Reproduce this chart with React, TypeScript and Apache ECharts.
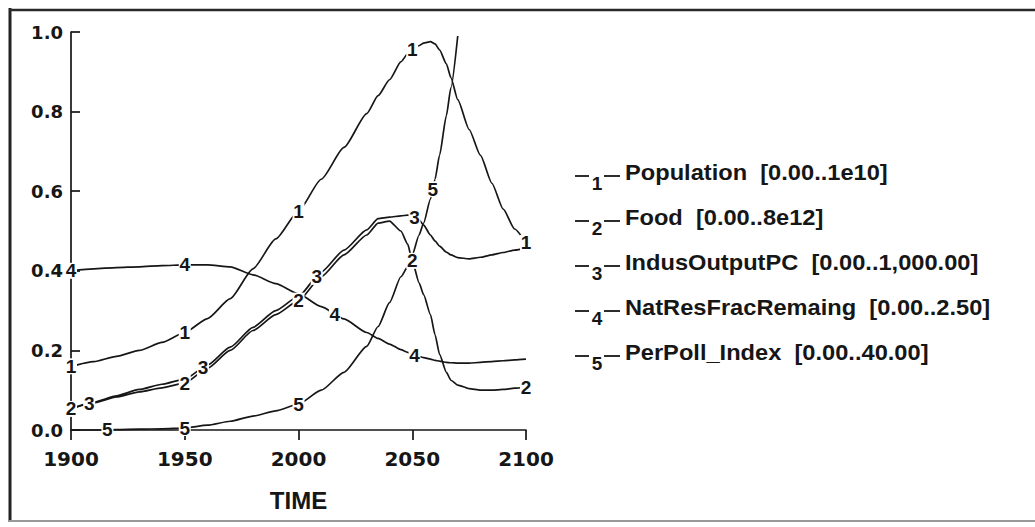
import React, { useEffect, useRef } from "react";
import * as echarts from "echarts";

const YEARS = [1900, 1910, 1920, 1930, 1940, 1950, 1960, 1970, 1980, 1990, 2000, 2010, 2020, 2030, 2035, 2040, 2045, 2048, 2050, 2053, 2055, 2058, 2060, 2062, 2065, 2067, 2070, 2075, 2080, 2085, 2090, 2095, 2100];

const POPULATION = [0.16, 0.172, 0.185, 0.2, 0.22, 0.245, 0.28, 0.33, 0.405, 0.48, 0.55, 0.63, 0.71, 0.795, 0.84, 0.88, 0.925, 0.945, 0.955, 0.966, 0.972, 0.976, 0.97, 0.955, 0.92, 0.885, 0.83, 0.755, 0.69, 0.62, 0.555, 0.505, 0.47];
const FOOD = [0.053, 0.068, 0.083, 0.096, 0.106, 0.118, 0.155, 0.2, 0.25, 0.29, 0.325, 0.385, 0.44, 0.49, 0.52, 0.525, 0.5, 0.467, 0.425, 0.37, 0.34, 0.29, 0.24, 0.19, 0.145, 0.125, 0.113, 0.104, 0.1, 0.1, 0.102, 0.105, 0.108];
const INDUS_OUTPUT_PC = [0.053, 0.07, 0.086, 0.102, 0.115, 0.128, 0.163, 0.208, 0.258, 0.3, 0.336, 0.397, 0.452, 0.503, 0.531, 0.535, 0.538, 0.54, 0.538, 0.528, 0.515, 0.49, 0.475, 0.462, 0.447, 0.44, 0.433, 0.43, 0.434, 0.44, 0.446, 0.452, 0.457];
const NAT_RES = [0.4, 0.405, 0.408, 0.41, 0.413, 0.415, 0.415, 0.41, 0.39, 0.368, 0.342, 0.31, 0.279, 0.245, 0.23, 0.216, 0.202, 0.195, 0.19, 0.185, 0.182, 0.178, 0.175, 0.173, 0.17, 0.169, 0.168, 0.168, 0.17, 0.172, 0.174, 0.176, 0.178];
const POLLUTION = [0, 0, 0.001, 0.002, 0.003, 0.005, 0.012, 0.022, 0.035, 0.048, 0.065, 0.1, 0.145, 0.21, 0.26, 0.32, 0.385, 0.41, 0.44, 0.49, 0.52, 0.58, 0.63, 0.69, 0.79, 0.86, 0.99, null, null, null, null, null, null];

const SERIES_VALUES = [POPULATION, FOOD, INDUS_OUTPUT_PC, NAT_RES, POLLUTION];
const SERIES_DIGITS = ["1", "2", "3", "4", "5"];
const LEGEND_NAMES = [
  "Population  [0.00..1e10]",
  "Food  [0.00..8e12]",
  "IndusOutputPC  [0.00..1,000.00]",
  "NatResFracRemaing  [0.00..2.50]",
  "PerPoll_Index  [0.00..40.00]",
];
const LABEL_YEARS = [
  [1900, 1950, 2000, 2050, 2100],
  [1900, 1950, 2000, 2050, 2100],
  [1908, 1958, 2008, 2051],
  [1900, 1950, 2016, 2051],
  [1916, 1950, 2000, 2059],
];
const X_TICKS = { min: 1900, max: 2100, interval: 50 };
const Y_TICKS = { min: 0, max: 1, interval: 0.2 };

const INK = "#161616";
const ARIAL = "Liberation Sans";
const WIDE = "DejaVu Sans";

function interp(vals: (number | null)[], yr: number): number {
  for (let i = 0; i < YEARS.length - 1; i++) {
    if (yr >= YEARS[i] && yr <= YEARS[i + 1]) {
      const a = vals[i] as number;
      const b = vals[i + 1] as number;
      if (b == null) return a;
      const t = (yr - YEARS[i]) / (YEARS[i + 1] - YEARS[i]);
      return a + (b - a) * t;
    }
  }
  return vals[vals.length - 1] as number;
}

export default function App() {
  const ref = useRef<HTMLDivElement>(null);
  useEffect(() => {
    document.body.style.margin = "0";
    const chart = echarts.init(ref.current!, null, { renderer: "svg" });

    const series = SERIES_VALUES.map((vals, si) => ({
      type: "line",
      name: LEGEND_NAMES[si],
      data: YEARS.map((y, i) => [y, vals[i]]),
      showSymbol: false,
      symbol: "none",
      smooth: 0.2,
      smoothMonotone: "x",
      connectNulls: false,
      clip: false,
      lineStyle: { color: INK, width: 1.7 },
      markPoint: {
        silent: true,
        symbol: "rect",
        symbolSize: [12, 16],
        itemStyle: { color: "#ffffff" },
        label: {
          show: true,
          position: "inside",
          formatter: SERIES_DIGITS[si],
          color: INK,
          fontSize: 19,
          fontWeight: "bold",
          fontFamily: ARIAL,
        },
        data: LABEL_YEARS[si].map((yr) => ({ coord: [yr, interp(vals, yr)], value: SERIES_DIGITS[si] })),
      },
    }));

    const legendGraphics: any[] = [];
    LEGEND_NAMES.forEach((name, i) => {
      const c = 172 + i * 45;
      legendGraphics.push(
        { type: "line", shape: { x1: 575, y1: c + 4, x2: 589, y2: c + 4 }, style: { stroke: INK, lineWidth: 1.8 } },
        { type: "line", shape: { x1: 604, y1: c + 4, x2: 620, y2: c + 4 }, style: { stroke: INK, lineWidth: 1.8 } },
        {
          type: "text",
          x: 597,
          y: c + 11,
          style: { text: SERIES_DIGITS[i], fontSize: 19, fontWeight: "bold", fontFamily: ARIAL, fill: INK, align: "center", verticalAlign: "middle" },
        },
        {
          type: "text",
          x: 625,
          y: c,
          scaleX: 1.075,
          style: { text: name, fontSize: 22, fontWeight: "bold", fontFamily: ARIAL, fill: INK, align: "left", verticalAlign: "middle" },
        }
      );
    });

    chart.setOption({
      animation: false,
      backgroundColor: "#ffffff",
      grid: { left: 71, right: 509, top: 32, bottom: 97, containLabel: false, outerBoundsMode: "none" },
      xAxis: {
        type: "value",
        min: X_TICKS.min,
        max: X_TICKS.max,
        interval: X_TICKS.interval,
        name: "TIME",
        nameLocation: "middle",
        nameGap: 58,
        nameTextStyle: { color: INK, fontSize: 24, fontWeight: "bold", fontFamily: ARIAL },
        axisLine: { show: true, onZero: false, lineStyle: { color: INK, width: 1.7 } },
        axisTick: { show: true, length: 10, lineStyle: { color: INK, width: 1.7 } },
        axisLabel: { margin: 19, color: INK, fontSize: 20, fontWeight: "bold", fontFamily: WIDE, formatter: (v: number) => String(v) },
        splitLine: { show: false },
      },
      yAxis: {
        type: "value",
        min: Y_TICKS.min,
        max: Y_TICKS.max,
        interval: Y_TICKS.interval,
        axisLine: { show: true, lineStyle: { color: INK, width: 1.7 } },
        axisTick: { show: true, inside: true, length: 9, lineStyle: { color: INK, width: 1.7 } },
        axisLabel: { margin: 8, color: INK, fontSize: 18, fontWeight: "bold", fontFamily: WIDE, formatter: (v: number) => v.toFixed(1) },
        splitLine: { show: false },
      },
      graphic: [
        { type: "line", shape: { x1: 10, y1: 8, x2: 10, y2: 522 }, style: { stroke: "#222", lineWidth: 3 } },
        { type: "line", shape: { x1: 9, y1: 10, x2: 1035, y2: 10 }, style: { stroke: "#2a2a2a", lineWidth: 2.5 } },
        { type: "line", shape: { x1: 9, y1: 521, x2: 1035, y2: 521 }, style: { stroke: "#999", lineWidth: 2 } },
        ...legendGraphics,
      ],
      series,
    });
    return () => chart.dispose();
  }, []);
  return <div ref={ref} style={{ position: "fixed", left: 0, top: 0, width: 1035, height: 527 }} />;
}
